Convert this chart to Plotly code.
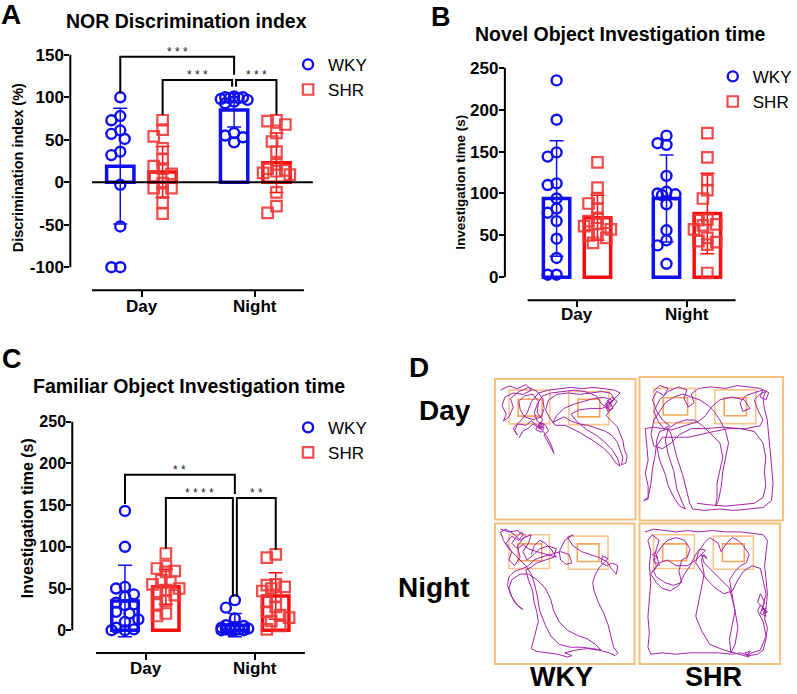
import plotly.graph_objects as go

W, H = 797, 694
FONT = "Liberation Sans, Arial, Helvetica, sans-serif"
BLUE = "#0F0FEF"
RED = "#FF0A0A"
RED_PT = "rgba(240,55,55,0.9)"
INK = "#000000"
PURPLE = "#A322A8"
ARENA = "#F5BF80"
ZONE_OUT = "#F8C68C"
ZONE_IN = "#F2A65A"

GROUPS = ["Day", "Night"]
STRAINS = ["WKY", "SHR"]

# ---------------- Panel A: NOR discrimination index (%)
A_WKY_DAY = [100, 78, 73, 61, 57, 51, 36, 32, -3, -52, -100, -100]
A_SHR_DAY = [73, 62, 54, 40, 27, 19, 16, 10, 7, -1, -7, -7, -12, -24, -37]
A_WKY_NIGHT = [101, 100, 100, 99, 99, 98, 97, 95, 93, 58, 55, 53, 47]
A_SHR_NIGHT = [73, 72, 68, 58, 48, 36, 21, 16, 14, 13, 11, 9, -12, -28, -36]
A_WKY_MEAN = [19, 85]
A_WKY_SD = [68, 20]
A_SHR_MEAN = [12, 23]
A_SHR_SD = [30, 35]
A_YTICKS = [-100, -50, 0, 50, 100, 150]

# ---------------- Panel B: novel object investigation time (s)
B_WKY_DAY = [235, 188, 149, 144, 112, 110, 94, 82, 77, 67, 46, 23, 3, 3]
B_SHR_DAY = [137, 107, 94, 88, 82, 71, 67, 65, 64, 61, 57, 51, 50, 47, 41]
B_WKY_NIGHT = [169, 160, 158, 121, 102, 100, 99, 98, 87, 56, 44, 38, 16]
B_SHR_NIGHT = [172, 143, 116, 104, 94, 69, 68, 63, 62, 57, 47, 43, 42, 39, 5]
B_WKY_MEAN = [94, 94]
B_WKY_SD = [69, 52]
B_SHR_MEAN = [71, 76]
B_SHR_SD = [27, 48]
T_YTICKS = [0, 50, 100, 150, 200, 250]

# ---------------- Panel C: familiar object investigation time (s)
C_WKY_DAY = [143, 100, 52, 50, 43, 40, 33, 31, 30, 22, 20, 13, 10, 3, 1, 0, 0]
C_SHR_DAY = [92, 77, 74, 71, 70, 60, 58, 55, 50, 48, 46, 42, 35, 31, 20, 17]
C_WKY_NIGHT = [36, 27, 14, 6, 5, 4, 3, 2, 2, 1, 1, 0, 0, 0, 0]
C_SHR_NIGHT = [91, 87, 55, 54, 52, 50, 47, 40, 34, 28, 22, 18, 15, 11, 5, 1]
C_WKY_MEAN = [35, 6]
C_WKY_SD = [43, 14]
C_SHR_MEAN = [52, 41]
C_SHR_SD = [21, 28]

# significance labels
A_SIG = ["* * *", "* * *", "* * *"]
C_SIG = ["* *", "* * * *", "* *"]

# ---------------- Panel D: tracking paths (arena units 0-100, y downward)
ZONE_L_OUT = [10, 8, 39, 32]
ZONE_L_IN = [16.5, 14.5, 33.5, 26.5]
ZONE_R_OUT = [52.5, 9, 81, 32.5]
ZONE_R_IN = [59, 14.5, 74.5, 27]

DAY_WKY_PATH = [(4,8),(10,5),(16,7),(22,4),(26,8),(20,11),(13,10),(7,13),(5,19),(8,25),(6,30),(10,27),(13,20),(11,14),(17,9),(24,6),(30,9),(34,14),(35,21),(33,27),(27,29),(21,27),(18,22),(17,16),(21,12),(27,11),(31,16),(30,24),(34,29),(31,33),(35,35),(33,38),(29,36),(32,31),(36,33),(38,37),(35,40),(37,44),(40,49),(42,53),(40,47),(37,41),(34,37),(30,33),(26,30),(22,33),(16,32),(14,37),(16,40),(13,35),(18,30),(23,24),(26,16),(31,10),(38,8),(46,7),(54,6),(62,7),(70,6),(78,7),(85,8),(89,10),(86,13),(82,17),(84,21),(80,23),(79,17),(83,13),(87,16),(84,20),(79,26),(83,30),(87,34),(89,39),(91,44),(92,50),(94,55),(93,60),(90,61),(91,56),(89,50),(87,45),(83,40),(78,37),(72,35),(66,33),(60,32),(54,30),(49,27),(45,29),(41,31),(44,26),(49,21),(56,18),(63,16),(70,14),(77,13),(83,15),(81,19),(76,21),(68,21),(60,22),(54,25),(58,30),(65,36),(72,40),(78,45),(83,50),(87,56),(89,62),(86,60),(82,54),(77,49),(70,44),(60,38),(50,33),(43,33),(39,28),(36,22),(38,15),(44,11),(52,10),(60,11),(68,10),(76,9),(82,10),(85,14),(82,18),(80,15),(83,19),(79,21),(81,16),(78,19),(82,22),(76,18),(72,12),(64,9),(56,8),(48,9),(40,10),(34,12),(30,18),(28,24),(30,30),(33,32),(31,35),(34,34),(32,31),(35,32),(33,36),(30,34),(27,32),(24,35),(20,37),(17,42)]
DAY_SHR_PATH = [(10,10),(14,6),(20,8),(17,13),(12,10),(9,16),(12,24),(16,30),(21,34),(17,36),(13,31),(10,24),(14,16),(20,10),(27,7),(33,9),(31,15),(34,21),(38,18),(36,12),(41,8),(50,7),(60,8),(68,6),(76,7),(84,8),(90,11),(88,16),(84,14),(86,9),(80,11),(74,13),(70,18),(72,24),(77,22),(73,16),(64,14),(56,16),(50,21),(46,27),(41,31),(35,33),(28,35),(22,37),(16,36),(10,35),(4,36),(5,46),(6,58),(4,67),(6,76),(6,85),(3,86),(6,84),(8,74),(9,64),(11,54),(12,44),(14,38),(20,36),(22,40),(24,48),(26,56),(30,68),(33,80),(35,88),(37,92),(45,93),(56,92),(66,93),(76,92),(86,91),(92,86),(93,74),(92,62),(91,50),(90,40),(89,30),(87,22),(86,15),(88,10),(84,12),(80,16),(82,22),(86,30),(84,34),(74,36),(62,36),(52,38),(44,40),(34,42),(24,42),(16,42),(12,48),(14,58),(18,68),(20,76),(24,84),(28,90),(32,92),(30,88),(26,78),(24,66),(20,54),(18,44),(20,36),(26,32),(32,30),(38,30),(44,34),(50,40),(56,46),(58,56),(56,64),(54,74),(54,84),(53,90),(55,86),(57,76),(58,66),(60,56),(62,46),(60,38),(56,30),(52,24),(48,20),(42,16),(36,14),(30,12),(24,14),(18,18),(14,24),(10,30),(8,40),(10,48),(16,50),(22,46),(28,40),(36,36),(46,36),(58,35),(70,36),(80,38),(86,46),(88,56),(87,66),(88,76),(86,84),(80,88),(70,89),(60,90),(48,89),(40,88)]
NIGHT_WKY_PATH = [(4,4),(10,6),(16,5),(20,8),(17,12),(12,9),(8,14),(12,20),(10,26),(14,30),(18,24),(16,16),(21,10),(26,8),(24,14),(20,20),(23,26),(28,22),(32,18),(38,16),(44,18),(42,24),(36,26),(30,28),(26,31),(22,33),(24,40),(27,48),(28,56),(30,63),(31,70),(29,77),(27,84),(26,89),(30,91),(37,92),(45,93),(52,95),(55,94),(50,92),(58,90),(66,89),(74,90),(82,92),(86,94),(88,92),(85,88),(83,80),(81,72),(78,64),(74,56),(71,48),(70,42),(72,36),(75,31),(78,28),(81,25),(77,23),(76,28),(80,30),(84,28),(88,30),(87,36),(84,33),(80,27),(74,24),(68,22),(62,20),(56,16),(52,10),(56,8),(50,12),(46,20),(47,26),(51,29),(55,28),(53,22),(47,20),(40,22),(33,24),(28,26),(24,30),(20,32),(14,34),(10,38),(9,44),(11,50),(14,56),(18,60),(20,61),(16,58),(12,52),(10,46),(12,40),(18,36),(24,36),(30,40),(36,46),(40,54),(42,62),(46,70),(52,76),(60,80),(66,82),(72,86),(76,90),(70,89),(62,88),(54,88),(46,86),(40,80),(36,72),(32,62),(30,50),(28,42),(26,36),(22,30),(16,24),(10,18),(6,12),(4,6),(8,4),(14,8),(18,12),(22,9),(19,6),(15,10),(12,14),(16,18),(20,15),(24,18),(30,20),(38,22),(44,24),(40,18),(36,14),(32,12),(28,16),(26,22)]
NIGHT_SHR_PATH = [(4,6),(10,4),(18,5),(26,6),(34,5),(42,6),(52,5),(62,6),(72,6),(82,7),(88,8),(91,12),(90,20),(89,30),(90,40),(91,50),(90,60),(89,68),(91,74),(90,82),(88,90),(84,93),(78,94),(72,92),(66,93),(56,92),(46,92),(36,92),(26,93),(16,92),(8,93),(6,88),(7,78),(6,66),(7,54),(8,42),(7,30),(8,20),(6,12),(9,8),(14,12),(12,18),(10,26),(14,30),(12,22),(16,16),(20,12),(26,10),(32,12),(36,18),(34,24),(30,26),(28,34),(30,42),(24,44),(18,42),(12,38),(10,34),(14,28),(20,26),(26,30),(34,30),(40,26),(44,22),(46,28),(52,34),(58,40),(64,46),(66,54),(68,62),(66,72),(64,82),(65,92),(68,86),(70,74),(68,62),(66,50),(64,40),(68,34),(72,30),(76,28),(78,22),(74,16),(70,12),(66,10),(62,14),(58,20),(56,14),(50,10),(46,14),(42,20),(40,28),(44,34),(48,40),(54,46),(60,50),(66,48),(70,40),(74,34),(80,30),(86,32),(88,40),(90,50),(88,58),(86,64),(90,66),(88,60),(84,56),(86,50),(89,56),(87,62),(90,60),(88,64),(91,63),(86,58),(84,62),(88,70),(90,80),(86,90),(80,92),(76,94),(79,91),(75,92),(78,95),(70,93),(60,90),(50,86),(44,76),(40,66),(42,56),(44,46),(46,36),(44,26),(46,22),(48,25),(44,22),(47,19),(43,18),(40,22),(36,30),(32,36),(28,44),(22,48),(16,46),(12,42),(8,36),(12,30),(10,26),(13,24),(9,22),(12,20)]

# ======================================================================
def lin(pa, va, pb, vb):
    return lambda p: va + (p - pa) * (vb - va) / (pb - pa)

def px(x):
    return x / W

def py(y):
    return 1 - y / H

def swarm(vals, ppx, ppy, step=4.5, dmin=9.0, maxoff=14.0):
    order = sorted(range(len(vals)), key=lambda i: -vals[i])
    placed, offs = [], [0.0] * len(vals)
    cands = [0.0]
    k = 1
    while k * step <= maxoff + 1e-9:
        cands += [-k * step, k * step]
        k += 1
    for i in order:
        yv = vals[i] * ppy
        best, bestd = None, -1
        for c in cands:
            d = min([((c - a) ** 2 + (yv - b) ** 2) ** 0.5 for a, b in placed] or [1e9])
            if d >= dmin:
                best = c
                break
            if d > bestd:
                best, bestd = c, d
        placed.append((best, yv))
        offs[i] = best / ppx
    return offs

fig = go.Figure()
shapes, annotations = [], []
OFF = {"WKY": -0.187, "SHR": 0.185}
BAR_W = 0.24


def txt(x, y, s, size, bold=True, angle=0, anchor="center", xref="paper"):
    annotations.append(dict(xref=xref, yref="paper", x=px(x) if xref == "paper" else x,
                            y=py(y), text=s, showarrow=False, xanchor=anchor,
                            yanchor="middle", textangle=angle,
                            font=dict(family=FONT, size=size, color=INK,
                                      weight="bold" if bold else "normal")))


def bar_panel(n, xd, yd, fx, fy, yticks, ytick_size, line_px, label_y, data, legend_name):
    xs = "" if n == 1 else str(n)
    xref, yref = "x" + xs, "y" + xs
    ppx = 1.0 / (fx(1) - fx(0))
    ppy = 1.0 / abs(fy(1) - fy(0))
    fig.update_layout(**{
        "xaxis" + xs: dict(domain=[px(xd[0]), px(xd[1])], range=[fx(xd[0]), fx(xd[1])],
                           tickvals=[0, 1], showticklabels=False, ticks="outside", ticklen=6,
                           tickwidth=2, tickcolor=INK, showline=False, showgrid=False,
                           zeroline=False, anchor=yref),
        "yaxis" + xs: dict(domain=[py(yd[1]), py(yd[0])], range=[fy(yd[1]), fy(yd[0])],
                           tickvals=yticks, ticktext=[str(v) for v in yticks],
                           ticks="outside", ticklen=5, tickwidth=2, tickcolor=INK,
                           ticklabelstandoff=-3,
                           showline=False, showgrid=False, zeroline=False, anchor=xref,
                           tickfont=dict(family=FONT, size=ytick_size, color=INK, weight="bold")),
    })
    for g, name in enumerate(GROUPS):
        txt(g, label_y, name, 17, xref=xref)
    # axis lines (Prism-style offset axes)
    shapes.append(dict(type="line", xref=xref + " domain", yref=yref, x0=0, x1=0,
                       y0=min(yticks), y1=max(yticks), line=dict(color=INK, width=2)))
    shapes.append(dict(type="line", xref=xref, yref=yref + " domain", x0=fx(line_px[0]),
                       x1=fx(line_px[1]), y0=0, y1=0, line=dict(color=INK, width=2)))
    styles = [("WKY", BLUE, BLUE, "circle-open"), ("SHR", RED, RED_PT, "square-open")]
    for strain, col, ptcol, sym in styles:
        means, sds, day, night = data[strain]
        fig.add_trace(go.Bar(
            x=[g + OFF[strain] for g in (0, 1)], y=means, width=BAR_W,
            xaxis=xref, yaxis=yref, showlegend=False,
            marker=dict(color="rgba(255,255,255,0)", line=dict(color=col, width=3.5)),
            error_y=dict(type="data", array=sds, color=col, thickness=1.5, width=7)))
    for strain, col, ptcol, sym in styles:
        means, sds, day, night = data[strain]
        xv, yv = [], []
        for g, vals in ((0, day), (1, night)):
            offs = swarm(vals, ppx, ppy)
            xv += [g + OFF[strain] + o for o in offs]
            yv += list(vals)
        fig.add_trace(go.Scatter(
            x=xv, y=yv, mode="markers", name=strain, xaxis=xref, yaxis=yref,
            legend=legend_name, cliponaxis=False,
            marker=dict(symbol=sym, size=10 if strain == "WKY" else 10.5, color=ptcol,
                        line=dict(width=2.4 if strain == "WKY" else 2.2, color=ptcol))))
    return xref, yref


def brackets(xref, yref, items, labels):
    for (x0, y0, x1, y1, yt), lab in zip(items, labels):
        shapes.append(dict(type="path", xref=xref, yref=yref,
                           path=f"M {x0},{y0} L {x0},{yt} L {x1},{yt} L {x1},{y1}",
                           line=dict(color=INK, width=2)))
        annotations.append(dict(xref=xref, yref=yref, x=(x0 + x1) / 2, y=yt, text=lab,
                                showarrow=False, xanchor="center", yanchor="middle", yshift=5,
                                font=dict(family=FONT, size=12, color="#222222")))


# ---------------- Panel A
fxA, fyA = lin(143, 0, 258, 1), lin(266, -100, 53, 150)
xrA, yrA = bar_panel(1, (71, 320), (40, 289), fxA, fyA, A_YTICKS, 17, (93, 307), 305,
                     {"WKY": (A_WKY_MEAN, A_WKY_SD, A_WKY_DAY, A_WKY_NIGHT),
                      "SHR": (A_SHR_MEAN, A_SHR_SD, A_SHR_DAY, A_SHR_NIGHT)}, "legend")
shapes.append(dict(type="line", xref=xrA, yref=yrA, x0=fxA(93), x1=fxA(316), y0=0, y1=0,
                   line=dict(color=INK, width=2)))
gA = 2 / 115
brackets(xrA, yrA, [
    (0 + OFF["WKY"], 104.6, 1 + OFF["WKY"], 126.5, 147.7),
    (0 + OFF["SHR"], 79.6, 1 + OFF["WKY"] - gA, 112.4, 120.3),
    (1 + OFF["WKY"] + gA, 112.4, 1 + OFF["SHR"], 79.6, 120.3),
], A_SIG)

# ---------------- Panel B
fxB, fyB = lin(583, 0, 694, 1), lin(276, 0, 66, 250)
bar_panel(2, (510, 752), (50, 299), fxB, fyB, T_YTICKS, 17, (533, 743), 313,
          {"WKY": (B_WKY_MEAN, B_WKY_SD, B_WKY_DAY, B_WKY_NIGHT),
           "SHR": (B_SHR_MEAN, B_SHR_SD, B_SHR_DAY, B_SHR_NIGHT)}, "legend2")

# ---------------- Panel C
fxC, fyC = lin(147, 0, 258, 1), lin(630, 0, 421, 250)
xrC, yrC = bar_panel(3, (73, 320), (415, 653), fxC, fyC, T_YTICKS, 16, (97, 308), 668,
                     {"WKY": (C_WKY_MEAN, C_WKY_SD, C_WKY_DAY, C_WKY_NIGHT),
                      "SHR": (C_SHR_MEAN, C_SHR_SD, C_SHR_DAY, C_SHR_NIGHT)}, "legend3")
gC = 2 / 111
brackets(xrC, yrC, [
    (0 + OFF["WKY"], 151.5, 1 + OFF["WKY"], 163.5, 186.6),
    (0 + OFF["SHR"], 97.7, 1 + OFF["WKY"] - gC, 40, 158.7),
    (1 + OFF["WKY"] + gC, 40, 1 + OFF["SHR"], 96.5, 158.7),
], C_SIG)

# ---------------- Panel D
BOXES = [((500, 642), (378, 519), DAY_WKY_PATH),
         ((646, 791), (376, 520), DAY_SHR_PATH),
         ((500, 641), (523, 664), NIGHT_WKY_PATH),
         ((646, 788), (523, 664), NIGHT_SHR_PATH)]
for k, (bx, by, path) in enumerate(BOXES):
    n = 4 + k
    xs, ys = f"x{n}", f"y{n}"
    fig.update_layout(**{
        f"xaxis{n}": dict(domain=[px(bx[0]), px(bx[1])], range=[0, 100], visible=False,
                          anchor=ys),
        f"yaxis{n}": dict(domain=[py(by[1]), py(by[0])], range=[100, 0], visible=False,
                          anchor=xs),
    })
    shapes.append(dict(type="rect", xref=xs + " domain", yref=ys + " domain", x0=0, x1=1,
                       y0=0, y1=1, line=dict(color=ARENA, width=2)))
    for z, c in ((ZONE_L_OUT, ZONE_OUT), (ZONE_R_OUT, ZONE_OUT),
                 (ZONE_L_IN, ZONE_IN), (ZONE_R_IN, ZONE_IN)):
        shapes.append(dict(type="rect", xref=xs, yref=ys, x0=z[0], x1=z[2], y0=z[1], y1=z[3],
                           line=dict(color=c, width=1.6), layer="below"))
    fig.add_trace(go.Scatter(x=[p[0] for p in path], y=[p[1] for p in path], mode="lines",
                             xaxis=xs, yaxis=ys, showlegend=False,
                             line=dict(color=PURPLE, width=1.0)))

# ---------------- text
txt(11, 13, "A", 28)
txt(445, 15, "B", 27)
txt(12, 358, "C", 27)
txt(423, 367, "D", 28)
txt(188, 19, "NOR Discrimination index", 19.5)
txt(627, 32, "Novel Object Investigation time", 19.5)
txt(191, 385, "Familiar Object Investigation time", 19.5)
txt(18, 166, "Discrimination index (%)", 14.5, angle=-90)
txt(465, 181, "Investigation time (s)", 13.5, angle=-90)
txt(28, 518, "Investigation time (s)", 16, angle=-90)
txt(450, 410, "Day", 28)
txt(438, 587, "Night", 28)
txt(567, 677, "WKY", 27)
txt(721, 677, "SHR", 27)

leg = dict(font=dict(family=FONT, size=17, color=INK), bgcolor="rgba(0,0,0,0)",
           xanchor="left", yanchor="top", itemwidth=30, tracegroupgap=0)
fig.update_layout(
    width=W, height=H, margin=dict(l=0, r=0, t=0, b=0),
    paper_bgcolor="white", plot_bgcolor="rgba(0,0,0,0)",
    barmode="overlay", showlegend=True,
    legend=dict(leg, x=px(291), y=py(45)),
    legend2=dict(leg, x=px(720), y=py(57)),
    legend3=dict(leg, x=px(291), y=py(409)),
    shapes=shapes, annotations=annotations,
)

fig.write_html("out.html")
